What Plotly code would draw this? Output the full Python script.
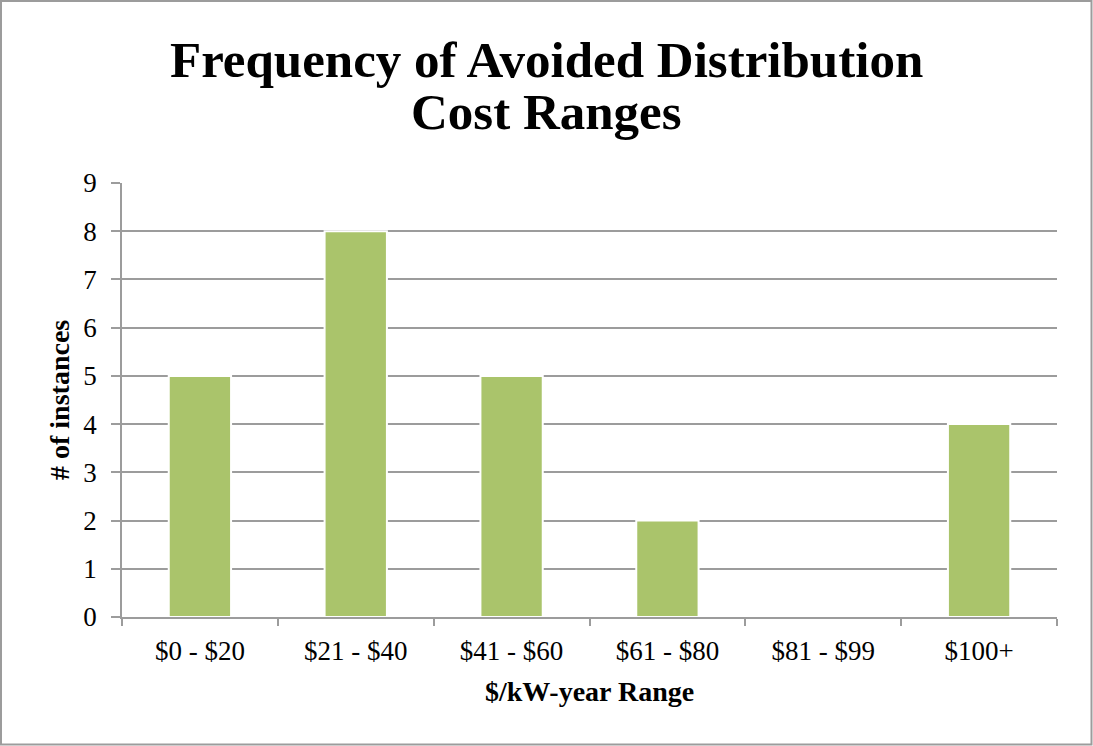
import plotly.graph_objects as go

# ── Data ──────────────────────────────────────────────────────────────────────
RANGES = ["$0 - $20", "$21 - $40", "$41 - $60", "$61 - $80", "$81 - $99", "$100+"]
COUNTS = [5, 8, 5, 2, 0, 4]
Y_TICKS = list(range(0, 10))

TITLE_LINES = ["Frequency of Avoided Distribution", "Cost Ranges"]
X_TITLE = "$/kW-year Range"
Y_TITLE = "# of instances"

# ── Style ─────────────────────────────────────────────────────────────────────
W, H = 1093, 746
M = dict(l=122, r=36, t=183, b=129)
PW = W - M["l"] - M["r"]
PH = H - M["t"] - M["b"]

SERIF = "'Liberation Serif', 'Times New Roman', serif"
GRAY = "#9c9c9c"
BAR = "#aac46b"


def px_x(x):
    # container pixel -> paper x
    return (x - M["l"]) / PW


def px_y(y):
    # container pixel -> paper y
    return (H - M["b"] - y) / PH


fig = go.Figure(go.Bar(
    x=RANGES,
    y=COUNTS,
    marker=dict(color=BAR, line=dict(color="#ffffff", width=2)),
    hoverinfo="x+y",
))

fig.update_layout(
    width=W, height=H,
    margin=M,
    paper_bgcolor="#ffffff",
    plot_bgcolor="#ffffff",
    font=dict(family=SERIF, color="#000000", size=27),
    bargap=0.6,
    showlegend=False,
)

fig.update_xaxes(
    type="category",
    showline=True, linecolor=GRAY, linewidth=1.5,
    ticks="outside", tickson="boundaries", ticklen=7, tickcolor=GRAY, tickwidth=1.5,
    tickfont=dict(size=27, family=SERIF, color="#000000"),
    ticklabelstandoff=9,
    showgrid=False, zeroline=False,
)
fig.update_yaxes(
    range=[0, 9], tickvals=Y_TICKS,
    showline=True, linecolor=GRAY, linewidth=1.5,
    ticks="outside", ticklen=9, tickcolor=GRAY, tickwidth=1.5,
    tickfont=dict(size=27, family=SERIF, color="#000000"),
    ticklabelstandoff=9,
    showgrid=True, gridcolor=GRAY, gridwidth=1.5,
    zeroline=False,
)

# title lines (tight Excel-like leading)
for text, base in zip(TITLE_LINES, [77, 129]):
    fig.add_annotation(
        text=f"<b>{text}</b>", xref="paper", yref="paper",
        x=px_x(W / 2), y=px_y(base - 0.338 * 51),
        xanchor="center", yanchor="middle", showarrow=False,
        font=dict(size=51, family=SERIF, color="#000000"),
    )

# axis titles
fig.add_annotation(
    text=f"<b>{X_TITLE}</b>", xref="paper", yref="paper",
    x=0.5, y=px_y(701 - 0.338 * 28),
    xanchor="center", yanchor="middle", showarrow=False,
    font=dict(size=28, family=SERIF, color="#000000"),
)
fig.add_annotation(
    text=f"<b>{Y_TITLE}</b>", xref="paper", yref="paper",
    x=px_x(59), y=0.5, textangle=-90,
    xanchor="center", yanchor="middle", showarrow=False,
    font=dict(size=28, family=SERIF, color="#000000"),
)

# outer chart border
fig.add_shape(
    type="rect", xref="paper", yref="paper",
    x0=px_x(1), x1=px_x(W - 1.5), y0=px_y(H - 1.5), y1=px_y(1),
    line=dict(color=GRAY, width=2), fillcolor="rgba(0,0,0,0)", layer="below",
)

# drop the default 8px body margin so the figure sits at the window origin
fig.write_html(
    "out.html",
    config={"displayModeBar": False},
    post_script="document.body.style.margin='0';document.body.style.overflow='hidden';",
)
